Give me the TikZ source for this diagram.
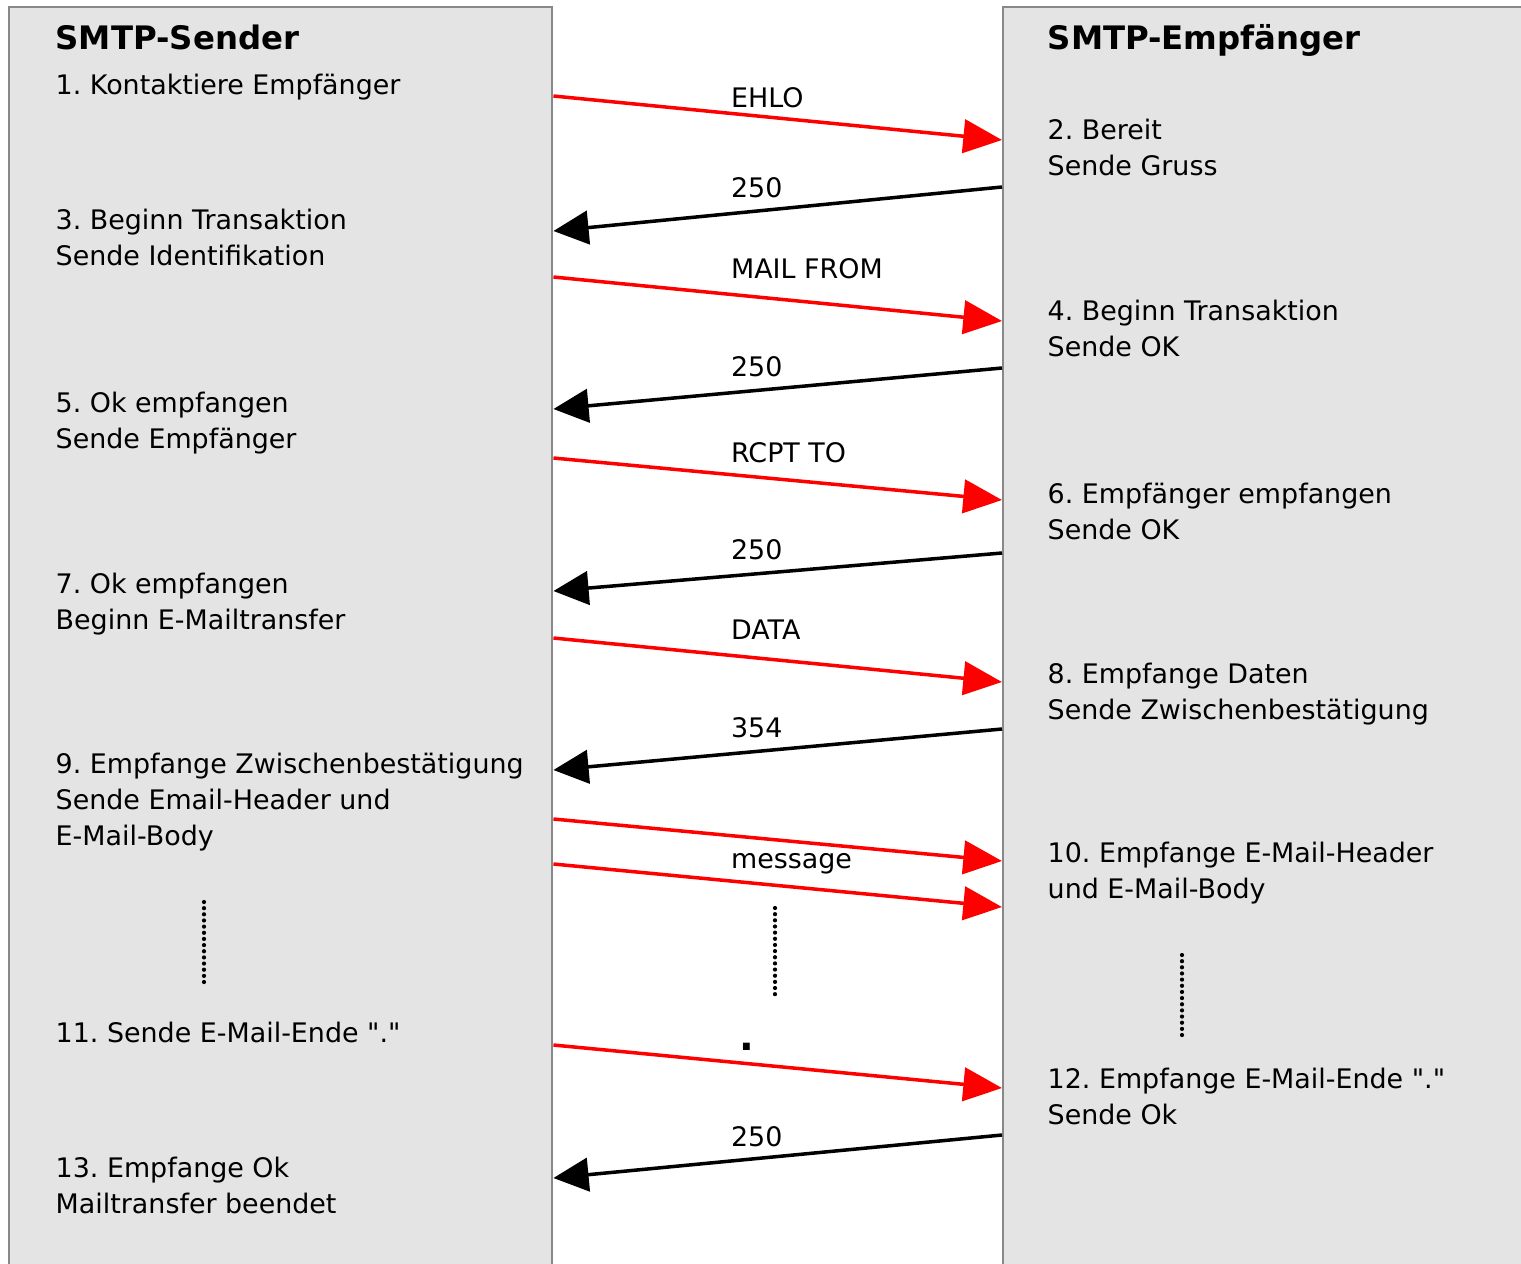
\documentclass[tikz,border=0pt]{standalone}
\usepackage{fontspec}
\setmainfont{DejaVu Sans}
\usepackage{tikz}
\usetikzlibrary{positioning}
\usetikzlibrary{calc}
\usetikzlibrary{arrows.meta}

\definecolor{PanelGray}{RGB}{228,228,228}
\definecolor{EdgeGray}{RGB}{136,136,136}
\definecolor{MsgRed}{RGB}{255,0,0}

\frenchspacing

\begin{document}
\begin{tikzpicture}[
	x=0.01cm, y=-0.01cm,
	panel/.style={draw=EdgeGray, fill=PanelGray, line width=0.6pt, anchor=north west, inner sep=0pt},
	stepText/.style={anchor=base west, align=left, inner sep=0pt, font=\fontsize{7.65}{10.2}\selectfont},
	heading/.style={anchor=base west, inner sep=0pt, font=\fontsize{9.2}{10.2}\selectfont\bfseries},
	request/.style={MsgRed, line width=1pt, -{Triangle[length=11pt, width=9.5pt]}},
	reply/.style={black, line width=1pt, -{Triangle[length=10pt, width=9.5pt]}},
	msgLabel/.style={anchor=base west, inner sep=0pt, xshift=-1pt, yshift=4.6pt, text=black, font=\fontsize{7.65}{10.2}\selectfont},
	ellipsis/.style={line width=1.2pt, line cap=round, dash pattern=on 0pt off 1.75pt}
]
\useasboundingbox[fill=white] (0,0) rectangle (1521,1263);

\node[
	panel,
	minimum width=5.43cm,
	minimum height=13cm
] (sender) at (8,6) {};

\node[
	panel,
	minimum width=5.4cm,
	minimum height=13cm
] (receiver) at (1002,6) {};

% --- multi-line nodes sit on the baseline of their last line

\node[heading] (senderTitle) at (55,49) {SMTP-Sender};
\node[stepText] (s1) at (55,94) {1. Kontaktiere Empfänger};
\node[stepText] (s3) at (55,265) {3. Beginn Transaktion\\Sende Identifikation};
\node[stepText] (s5) at (55,448) {5. Ok empfangen\\Sende Empfänger};
\node[stepText] (s7) at (55,629) {7. Ok empfangen\\Beginn E-Mailtransfer};
\node[stepText] (s9) at (55,845) {9. Empfange Zwischenbestätigung\\Sende Email-Header und\\E-Mail-Body};
\node[stepText] (s11) at (55,1042) {11. Sende E-Mail-Ende \textquotedbl.\textquotedbl};
\node[stepText] (s13) at (55,1213) {13. Empfange Ok\\Mailtransfer beendet};

% ---

\node[heading] (receiverTitle) at (1047,49) {SMTP-Empfänger};
\node[stepText] (r2) at (1047,175) {2. Bereit\\Sende Gruss};
\node[stepText] (r4) at (1047,356) {4. Beginn Transaktion\\Sende OK};
\node[stepText] (r6) at (1047,539) {6. Empfänger empfangen\\Sende OK};
\node[stepText] (r8) at (1047,719) {8. Empfange Daten\\Sende Zwischenbestätigung};
\node[stepText] (r10) at (1047,898) {10. Empfange E-Mail-Header\\und E-Mail-Body};
\node[stepText] (r12) at (1047,1124) {12. Empfange E-Mail-Ende \textquotedbl.\textquotedbl\\Sende Ok};

% ---

\draw[request] ($(sender.north east) + (0, 90)$) -- ($(receiver.north west) + (0, 134)$)
	node[msgLabel, pos=0.4, yshift=-2.9pt]{EHLO};

\draw[reply] ($(receiver.north west) + (0, 181)$) -- ($(sender.north east) + (0, 225)$)
	node[msgLabel, pos=0.6]{250};

\draw[request] ($(sender.north east) + (0, 271)$) -- ($(receiver.north west) + (0, 315)$)
	node[msgLabel, pos=0.4]{MAIL FROM};

\draw[reply] ($(receiver.north west) + (0, 362)$) -- ($(sender.north east) + (0, 403)$)
	node[msgLabel, pos=0.6]{250};

\draw[request] ($(sender.north east) + (0, 452)$) -- ($(receiver.north west) + (0, 494)$)
	node[msgLabel, pos=0.4, yshift=-1pt]{RCPT TO};

\draw[reply] ($(receiver.north west) + (0, 547)$) -- ($(sender.north east) + (0, 585)$)
	node[msgLabel, pos=0.6]{250};

\draw[request] ($(sender.north east) + (0, 632)$) -- ($(receiver.north west) + (0, 676)$)
	node[msgLabel, pos=0.4]{DATA};

\draw[reply] ($(receiver.north west) + (0, 723)$) -- ($(sender.north east) + (0, 764)$)
	node[msgLabel, pos=0.6]{354};

% ---

\draw[request] ($(sender.north east) + (0, 813)$) -- ($(receiver.north west) + (0, 855)$);

\draw[request] ($(sender.north east) + (0, 858)$) -- ($(receiver.north west) + (0, 901)$)
	node[msgLabel, pos=0.4, yshift=-1pt]{message};

\draw[request] ($(sender.north east) + (0, 1039)$) -- ($(receiver.north west) + (0, 1082)$)
	node[msgLabel, pos=0.41, xshift=1pt, yshift=-1.2pt, font=\fontsize{11}{12}\selectfont\bfseries]{.};

\draw[reply] ($(receiver.north west) + (0, 1129)$) -- ($(sender.north east) + (0, 1172)$)
	node[msgLabel, pos=0.6, yshift=-0.6pt]{250};

% ---

\coordinate (senderDots) at (204,902);
\coordinate (middleDots) at (775,908);
\coordinate (receiverDots) at (1182,955);

\draw[ellipsis] (senderDots) -- ++(0, 85);
\draw[ellipsis] (middleDots) -- ++(0, 87);
\draw[ellipsis] (receiverDots) -- ++(0, 85);

\end{tikzpicture}
\end{document}
